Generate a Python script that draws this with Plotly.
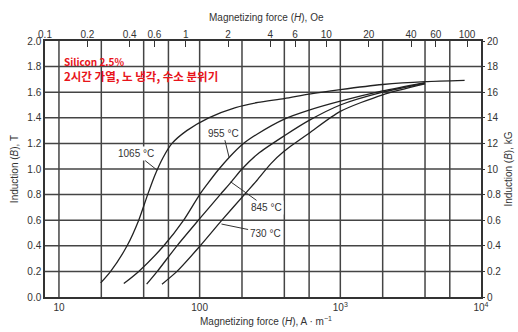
import numpy as np
import plotly.graph_objects as go

# ---------------- data ----------------
H_1065 = [19.8, 23.3, 30.5, 36.9, 42.7, 48, 55, 63.6, 81, 116, 180, 260, 400, 600, 1000, 2000, 4000, 7650]
B_1065 = [0.11, 0.20, 0.40, 0.60, 0.80, 0.95, 1.09, 1.20, 1.30, 1.40, 1.48, 1.52, 1.55, 1.585, 1.62, 1.66, 1.683, 1.693]

H_955 = [28.9, 36.9, 55.6, 77, 100, 113, 135, 165, 200, 254, 400, 600, 1000, 2000, 4000]
B_955 = [0.105, 0.20, 0.40, 0.60, 0.80, 0.88, 0.99, 1.10, 1.19, 1.27, 1.39, 1.46, 1.53, 1.61, 1.675]

H_845 = [42, 50, 69, 98, 140, 168, 200, 260, 400, 600, 1000, 2000, 4000]
B_845 = [0.10, 0.20, 0.40, 0.60, 0.80, 0.90, 1.00, 1.12, 1.26, 1.38, 1.50, 1.60, 1.67]

H_730 = [54, 69, 101, 144, 208, 255, 320, 400, 600, 1000, 2000, 4000]
B_730 = [0.10, 0.20, 0.40, 0.60, 0.80, 0.91, 1.04, 1.14, 1.28, 1.45, 1.58, 1.665]

curve_names = ["1065 °C", "955 °C", "845 °C", "730 °C"]

# bottom axis (A/m): grid positions and labels
x_grid_vals = [10, 20, 40, 60, 100, 200, 400, 600, 1000, 2000, 4000, 6000]
x_label_vals = [10, 100, 1000, 10000]
x_label_text = ["10", "100", "10<sup>3</sup>", "10<sup>4</sup>"]
# top axis (Oe)
oe_ticks = [0.1, 0.2, 0.4, 0.6, 1, 2, 4, 6, 10, 20, 40, 60, 100]
oe_text = ["0.1", "0.2", "0.4", "0.6", "1", "2", "4", "6", "10", "20", "40", "60", "100"]
# left axis (T)
t_ticks = [0.0, 0.2, 0.4, 0.6, 0.8, 1.0, 1.2, 1.4, 1.6, 1.8, 2.0]
# right axis (kG)
kg_ticks = [0, 2, 4, 6, 8, 10, 12, 14, 16, 18, 20]
kg_text = ["0", "0.2", "0.4", "0.6", "0.8", "10", "12", "14", "16", "18", "20"]

# label text position (H, B) and leader tip (H, B)
label_pos = [(35.5, 1.12), (147, 1.28), (298, 0.70), (292, 0.50)]
label_tip = [(50, 0.99), (162, 1.09), (166, 0.90), (143, 0.57)]

OE_TO_AM = 1000 / (4 * np.pi)
T_TO_KG = 10.0
H_MIN = 0.1 * OE_TO_AM   # left edge (0.1 Oe)
H_MAX = 1e4              # right edge
B_MIN, B_MAX = t_ticks[0], t_ticks[-1]

fig = go.Figure()

# grid lines drawn as traces through the axes
grid_col = "#444444"
for v in x_grid_vals:
    fig.add_trace(go.Scatter(x=[v, v], y=[B_MIN, B_MAX], mode="lines",
                             line=dict(color=grid_col, width=1.5),
                             showlegend=False, hoverinfo="skip"))
for v in t_ticks[1:-1]:
    fig.add_trace(go.Scatter(x=[H_MIN, H_MAX], y=[v, v], mode="lines",
                             line=dict(color=grid_col, width=1.5),
                             showlegend=False, hoverinfo="skip"))

line_col = "#222222"
for H, B, name in [(H_1065, B_1065, curve_names[0]), (H_955, B_955, curve_names[1]),
                   (H_845, B_845, curve_names[2]), (H_730, B_730, curve_names[3])]:
    fig.add_trace(go.Scatter(x=H, y=B, mode="lines", name=name,
                             line=dict(color=line_col, width=1.3, shape="spline", smoothing=0.7),
                             showlegend=False, hoverinfo="skip"))

# invisible copies (in Oe / kG) so the secondary axes are drawn
fig.add_trace(go.Scatter(x=[h / OE_TO_AM for h in H_1065], y=B_1065, xaxis="x2", yaxis="y",
                         mode="lines", line=dict(width=0), opacity=0,
                         showlegend=False, hoverinfo="skip"))
fig.add_trace(go.Scatter(x=H_1065, y=[b * T_TO_KG for b in B_1065], xaxis="x", yaxis="y2",
                         mode="lines", line=dict(width=0), opacity=0,
                         showlegend=False, hoverinfo="skip"))

tick_font = dict(family="Liberation Sans, Arial", size=10, color="#333")
fig.update_layout(
    width=518, height=332,
    margin=dict(l=45, r=37, t=41, b=35),
    paper_bgcolor="white", plot_bgcolor="white",
    xaxis=dict(type="log", range=[np.log10(H_MIN), np.log10(H_MAX)],
               tickvals=x_label_vals, ticktext=x_label_text, ticks="",
               showgrid=False,
               showline=True, linecolor="#333", linewidth=1.5, mirror=True,
               tickfont=tick_font, zeroline=False),
    xaxis2=dict(type="log", overlaying="x", side="top", anchor="y",
                range=[-1, np.log10(H_MAX / OE_TO_AM)],
                tickvals=oe_ticks, ticktext=oe_text, ticks="inside", ticklen=6,
                tickcolor="#333", showgrid=False, showline=False, tickfont=tick_font,
                zeroline=False),
    yaxis=dict(range=[B_MIN, B_MAX], tickvals=t_ticks, tickformat=".1f", ticks="",
               showgrid=False,
               showline=True, linecolor="#333", linewidth=1.5, mirror=True,
               tickfont=tick_font, zeroline=False),
    yaxis2=dict(range=[B_MIN * T_TO_KG, B_MAX * T_TO_KG], overlaying="y", side="right",
                anchor="x", tickvals=kg_ticks,
                ticktext=kg_text, ticks="outside", ticklen=3, tickcolor="#333",
                showgrid=False, showline=False, tickfont=tick_font, zeroline=False),
)

ann_font = dict(family="Liberation Sans, Arial", size=10, color="#333")
for name, (lx, ly), (tx, ty) in zip(curve_names, label_pos, label_tip):
    fig.add_annotation(x=np.log10(tx), y=ty, xref="x", yref="y",
                       ax=np.log10(lx), ay=ly, axref="x", ayref="y",
                       text=name, showarrow=True, arrowhead=0, arrowwidth=1,
                       arrowcolor="#333", font=ann_font, bgcolor="white")

title_font = dict(family="Liberation Sans, Arial", size=10, color="#333")
fig.add_annotation(x=0.507, y=1.12, xref="paper", yref="paper", showarrow=False,
                   text="Magnetizing force (<i>H</i>), Oe", font=title_font)
fig.add_annotation(x=0.507, y=-0.125, xref="paper", yref="paper", showarrow=False,
                   text="Magnetizing force (<i>H</i>), A · m<sup>−1</sup>", font=title_font)
fig.add_annotation(x=-0.088, y=0.5, xref="paper", yref="paper", showarrow=False,
                   text="Induction (<i>B</i>), T", textangle=-90, font=title_font)
fig.add_annotation(x=1.078, y=0.5, xref="paper", yref="paper", showarrow=False,
                   text="Induction (<i>B</i>), kG", textangle=-90, font=title_font)

red_font = dict(family="Noto Sans CJK KR", color="#e8141b")
fig.add_annotation(x=0.039, y=0.919, xref="paper", yref="paper", showarrow=False,
                   xanchor="left", yanchor="middle", align="left",
                   text="<b>Silicon 2.5%</b>", font=dict(size=10, **red_font))
fig.add_annotation(x=0.039, y=0.864, xref="paper", yref="paper", showarrow=False,
                   xanchor="left", yanchor="middle", align="left",
                   text="<b>2시간 가열, 노 냉각, 수소 분위기</b>", font=dict(size=11.5, **red_font))

fig.write_html("out.html")
